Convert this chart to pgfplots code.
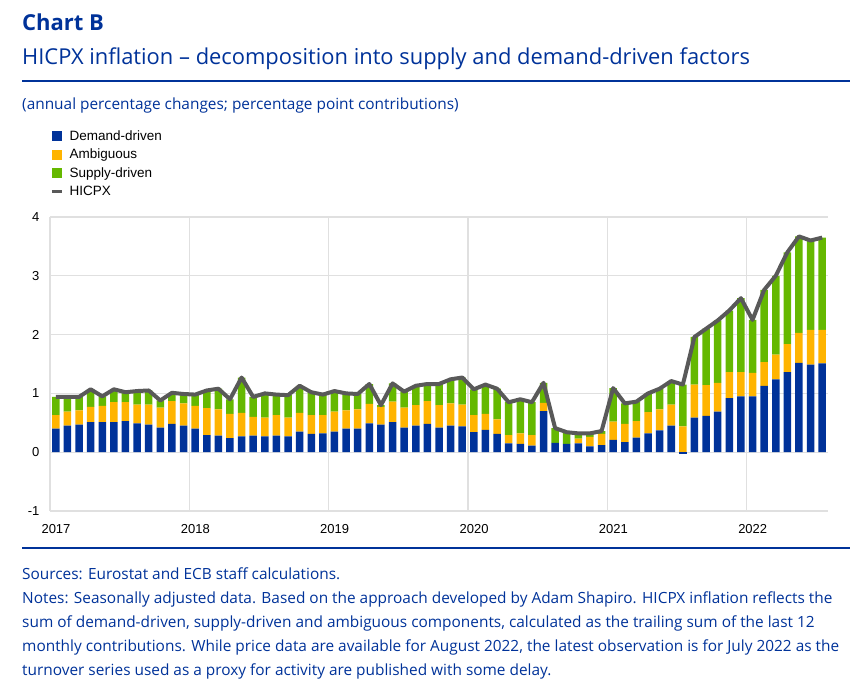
\documentclass[border=0pt]{standalone}
\usepackage{fontspec}
\setmainfont{Open Sans}
\newfontfamily\arial{Liberation Sans}
\usepackage{pgfplots}
\usepackage{pgfplotstable}
\pgfplotsset{compat=1.18}
\definecolor{ecbblue}{HTML}{003299}
\definecolor{demand}{HTML}{003299}
\definecolor{ambig}{HTML}{FFB400}
\definecolor{supply}{HTML}{65B800}
\definecolor{hicpx}{HTML}{595959}
\definecolor{gridc}{HTML}{E0E0E0}

\pgfplotstableread{
x D A S H
0.5 0.40 0.23 0.31 0.94
1.5 0.45 0.24 0.25 0.94
2.5 0.47 0.24 0.23 0.94
3.5 0.51 0.26 0.30 1.07
4.5 0.51 0.28 0.16 0.95
5.5 0.51 0.34 0.22 1.07
6.5 0.53 0.32 0.17 1.02
7.5 0.49 0.32 0.23 1.04
8.5 0.47 0.34 0.24 1.05
9.5 0.42 0.34 0.12 0.88
10.5 0.48 0.39 0.14 1.01
11.5 0.45 0.38 0.16 0.99
12.5 0.40 0.39 0.19 0.98
13.5 0.29 0.46 0.30 1.05
14.5 0.28 0.45 0.35 1.08
15.5 0.24 0.41 0.25 0.90
16.5 0.27 0.40 0.60 1.27
17.5 0.28 0.32 0.34 0.94
18.5 0.27 0.32 0.41 1.00
19.5 0.28 0.35 0.35 0.98
20.5 0.27 0.32 0.38 0.97
21.5 0.35 0.32 0.46 1.13
22.5 0.31 0.32 0.39 1.02
23.5 0.32 0.31 0.35 0.98
24.5 0.35 0.34 0.35 1.04
25.5 0.40 0.31 0.29 1.00
26.5 0.40 0.33 0.26 0.99
27.5 0.49 0.33 0.34 1.16
28.5 0.47 0.30 0.03 0.80
29.5 0.51 0.35 0.31 1.17
30.5 0.42 0.34 0.27 1.03
31.5 0.45 0.35 0.33 1.13
32.5 0.48 0.39 0.29 1.16
33.5 0.42 0.38 0.36 1.16
34.5 0.45 0.38 0.41 1.24
35.5 0.44 0.37 0.46 1.27
36.5 0.34 0.29 0.44 1.07
37.5 0.38 0.27 0.50 1.15
38.5 0.31 0.25 0.52 1.08
39.5 0.15 0.14 0.56 0.85
40.5 0.14 0.18 0.58 0.90
41.5 0.11 0.18 0.56 0.85
42.5 0.70 0.14 0.34 1.18
43.5 0.16 0.00 0.25 0.41
44.5 0.14 0.00 0.20 0.34
45.5 0.15 0.08 0.09 0.32
46.5 0.10 0.16 0.06 0.32
47.5 0.12 0.19 0.05 0.36
48.5 0.21 0.31 0.57 1.09
49.5 0.17 0.31 0.35 0.83
50.5 0.25 0.28 0.33 0.86
51.5 0.32 0.36 0.32 1.00
52.5 0.37 0.36 0.35 1.08
53.5 0.45 0.36 0.40 1.21
54.5 0.00 0.44 0.71 1.15
55.5 0.59 0.56 0.81 1.96
56.5 0.62 0.52 0.96 2.10
57.5 0.69 0.49 1.06 2.24
58.5 0.92 0.44 1.05 2.41
59.5 0.95 0.41 1.26 2.62
60.5 0.95 0.40 0.90 2.25
61.5 1.13 0.40 1.23 2.76
62.5 1.24 0.42 1.34 3.00
63.5 1.36 0.48 1.56 3.40
64.5 1.52 0.51 1.64 3.67
65.5 1.49 0.59 1.52 3.60
66.5 1.51 0.57 1.57 3.65
}\data

\begin{document}
\begin{tikzpicture}
\path[use as bounding box] (0pt,0pt) rectangle (850pt,-691pt);
\node[anchor=base west, inner sep=0pt, text=ecbblue, font=\fontsize{22}{26}\selectfont\bfseries] at (22pt,-30pt) {Chart B};
\node[anchor=base west, inner sep=0pt, text=ecbblue, font=\fontsize{21.9}{26}\selectfont] at (22pt,-64pt) {HICPX inflation – decomposition into supply and demand-driven factors};
\draw[ecbblue, line width=2.5pt] (22pt,-81pt) -- (850pt,-81pt);
\node[anchor=base west, inner sep=0pt, text=ecbblue, font=\fontsize{15.4}{18}\selectfont] at (22pt,-109pt) {(annual percentage changes; percentage point contributions)};

\begin{axis}[
  at={(50pt,-511pt)}, anchor=south west,
  width=778pt, height=294pt, scale only axis,
  xmin=0, xmax=67, ymin=-1, ymax=4,
  ybar stacked, bar width=7.5pt,
  xtick={0,12,24,36,48,60},
  xticklabels={2017,2018,2019,2020,2021,2022},
  ytick={-1,0,1,2,3,4},
  yticklabels={-1,0,1,2,3,4},
  grid=major, major grid style={gridc, line width=1.2pt},
  axis line style={draw=none}, tick style={draw=none},
  ticklabel style={font=\arial\fontsize{13}{15}\selectfont, text=black},
  xticklabel style={xshift=6pt, yshift=-10pt},
  yticklabel style={xshift=-7pt},
  legend style={at={(0,1.302)}, anchor=north west, draw=none, fill=none,
    inner sep=0pt, row sep=3.3pt, font=\arial\fontsize{13.5}{15}\selectfont,
    /tikz/every odd column/.append style={column sep=4pt}},
  legend cell align=left,
  legend image code/.code={\fill[#1] (0pt,-5pt) rectangle (10pt,5pt);},
]
\addplot[fill=demand, draw=none] table[x=x, y=D] {\data};
\addlegendentry{Demand-driven}
\addplot[fill=ambig, draw=none] table[x=x, y=A] {\data};
\addlegendentry{Ambiguous}
\addplot[fill=supply, draw=none] table[x=x, y=S] {\data};
\addlegendentry{Supply-driven}
\addlegendimage{legend image code/.code={\draw[hicpx, line width=3.5pt] (0pt,0pt) -- (10pt,0pt);}}
\addlegendentry{HICPX}
\end{axis}

\begin{axis}[
  at={(50pt,-511pt)}, anchor=south west,
  width=778pt, height=294pt, scale only axis,
  xmin=0, xmax=67, ymin=-1, ymax=4, hide axis,
]
\addplot[ybar, bar width=7.5pt, fill=demand, draw=none] coordinates {(54.5,-0.03)};
\addplot[hicpx, line width=4pt, line join=round, mark=none] table[x=x, y=H] {\data};
\end{axis}

\draw[ecbblue, line width=2.5pt] (22pt,-548pt) -- (850pt,-548pt);
\begin{scope}[every node/.style={anchor=base west, inner sep=0pt, text=ecbblue, font=\fontsize{15.4}{18}\selectfont}]
\node at (22pt,-579pt) {Sources: Eurostat and ECB staff calculations.};
\node at (22pt,-603pt) {Notes: Seasonally adjusted data. Based on the approach developed by Adam Shapiro. HICPX inflation reflects the};
\node at (22pt,-627pt) {sum of demand-driven, supply-driven and ambiguous components, calculated as the trailing sum of the last 12};
\node at (22pt,-651pt) {monthly contributions. While price data are available for August 2022, the latest observation is for July 2022 as the};
\node at (22pt,-675pt) {turnover series used as a proxy for activity are published with some delay.};
\end{scope}
\end{tikzpicture}
\end{document}
